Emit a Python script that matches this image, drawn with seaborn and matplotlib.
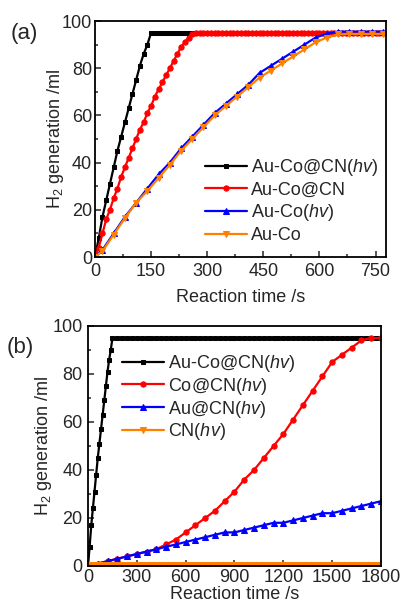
import numpy as np
import pandas as pd
import matplotlib
matplotlib.use("Agg")
import matplotlib.pyplot as plt
from matplotlib.ticker import MultipleLocator
import seaborn as sns

sns.set_theme(style="ticks")
plt.rcParams['font.family'] = ['Liberation Sans', 'DejaVu Sans']
plt.rcParams['mathtext.fontset'] = 'custom'
plt.rcParams['mathtext.rm'] = 'Liberation Sans'
plt.rcParams['mathtext.it'] = 'Liberation Sans:italic'

# ---------- Panel (a) data ----------
a_black_t = [0, 10, 20, 30, 40, 50, 60, 70, 80, 90, 100, 110, 120, 130, 140, 150,
             160, 170, 180, 190, 200, 210, 220, 230, 240, 250, 260, 270]
a_black_y = [0, 8, 17, 24, 31, 38, 45, 51, 57, 63, 69, 75, 81, 86, 90, 95,
             95, 95, 95, 95, 95, 95, 95, 95, 95, 95, 95, 95]

a_red_t = [0, 10, 20, 30, 40, 50, 60, 70, 80, 90, 100, 110, 120, 130, 140, 150, 160,
           170, 180, 190, 200, 210, 220, 230, 240, 250, 260, 270, 280, 290, 300, 310,
           320, 330, 340, 350, 360, 370, 380, 390, 400, 410, 420, 430, 440, 450, 460,
           470, 480, 490, 500, 510, 520, 530, 540, 550, 560, 570, 580, 590, 600, 610,
           620, 630, 640, 650, 660, 670, 680, 690, 700, 710, 720, 730, 740, 750, 760, 770]
a_red_y = [0, 4, 10, 16, 20, 25, 29, 34, 38, 42, 46, 50, 54, 57, 61, 64, 68,
           71, 74, 77, 80, 83, 86, 89, 91, 93, 94.5, 95] + [95] * 50

a_blue_t = [0, 20, 50, 80, 110, 140, 170, 200, 230, 260, 290, 320, 350, 380, 410,
            440, 470, 500, 530, 560, 590, 620, 650, 680, 710, 740, 770]
a_blue_y = [0, 3, 10, 17, 23, 29, 35, 40, 46, 51, 56, 61, 65, 69, 73,
            78, 81, 84, 87, 90, 93, 94.6, 95.5, 95.5, 95.5, 95.5, 95.5]

a_orange_t = a_blue_t
a_orange_y = [0, 2.5, 9.5, 16.5, 23, 28, 33.5, 39, 45, 50, 55, 60, 64, 68, 72,
              76, 79, 82, 85, 88, 91, 93, 94.3, 94.5, 94.5, 94.5, 94.5]

a_labels = ["Au-Co@CN($\\it{hv}$)", "Au-Co@CN", "Au-Co($\\it{hv}$)", "Au-Co"]

# ---------- Panel (b) data ----------
b_black_t = [0, 10, 20, 30, 40, 50, 60, 70, 80, 90, 100, 110, 120, 130, 140, 150] + \
            list(range(180, 1801, 30))
b_black_y = [0, 8, 17, 24, 31, 38, 45, 51, 57, 63, 69, 75, 81, 86, 90, 95] + \
            [95] * len(range(180, 1801, 30))

b_red_t = list(range(0, 1801, 60))
b_red_y = [0, 1, 2, 3, 4, 5, 6, 7, 9, 11, 14, 17, 20, 23, 27, 31, 36, 40, 45, 50,
           55, 61, 67, 73, 79, 85, 88, 91, 94, 95, 95]

b_blue_t = list(range(0, 1801, 60))
b_blue_y = [0, 1, 2, 3, 4, 5, 6, 7, 8, 9, 10, 11, 12, 13, 14, 14, 15, 16, 17, 18,
            18, 19, 20, 21, 22, 22, 23, 24, 25, 26, 27]

b_orange_t = list(range(0, 1801, 30))
b_orange_y = [0.3] * len(b_orange_t)

b_labels = ["Au-Co@CN($\\it{hv}$)", "Co@CN($\\it{hv}$)", "Au@CN($\\it{hv}$)", "CN($\\it{hv}$)"]

colors = ["#000000", "#ff0000", "#0000ff", "#ff8000"]
markers = ["s", "o", "^", "v"]
msizes = [2.8, 3.8, 3.8, 3.8]

W, H = 403, 609
fig = plt.figure(figsize=(W / 100, H / 100), dpi=100)


def px_axes(l, t, r, b):
    return fig.add_axes([l / W, 1 - b / H, (r - l) / W, (b - t) / H])


axa = px_axes(95, 21, 386, 257)
axb = px_axes(88, 326, 381, 566)


def draw(ax, series, labels):
    for (t, y), lab, c, m, ms in zip(series, labels, colors, markers, msizes):
        sns.lineplot(x=t, y=y, ax=ax, color=c, marker=m, markersize=ms,
                     markeredgecolor=c, linewidth=1.6, label=lab, sort=False)


FS = 13


def style(ax, xmax, xmaj, xmin, xpad, xlabpad, ypad, ylabpad):
    ax.set_xlim(0, xmax)
    ax.set_ylim(0, 100)
    ax.xaxis.set_major_locator(MultipleLocator(xmaj))
    ax.xaxis.set_minor_locator(MultipleLocator(xmin))
    ax.yaxis.set_major_locator(MultipleLocator(20))
    ax.yaxis.set_minor_locator(MultipleLocator(10))
    ax.tick_params(which='both', direction='in', top=False, right=False,
                   labelsize=FS, width=1.1)
    ax.tick_params(axis='x', pad=xpad)
    ax.tick_params(axis='y', pad=ypad)
    ax.tick_params(which='major', length=4)
    ax.tick_params(which='minor', length=2.5)
    for s in ax.spines.values():
        s.set_linewidth(1.3)
        s.set_color('black')
    ax.set_xlabel("Reaction time /s", fontsize=FS, labelpad=xlabpad)
    ax.set_ylabel("H$_2$ generation /ml", fontsize=FS, labelpad=ylabpad)


draw(axa, [(a_black_t, a_black_y), (a_red_t, a_red_y), (a_blue_t, a_blue_y),
           (a_orange_t, a_orange_y)], a_labels)
style(axa, 778, 150, 75, xpad=4, xlabpad=7, ypad=2, ylabpad=-3)
axa.legend(loc='upper left', frameon=False, fontsize=FS, handlelength=2.3,
           handletextpad=0.25, labelspacing=0.2, borderpad=0, borderaxespad=0,
           bbox_to_anchor=(205 / W, 1 - 157 / H), bbox_transform=fig.transFigure)

draw(axb, [(b_black_t, b_black_y), (b_red_t, b_red_y), (b_blue_t, b_blue_y),
           (b_orange_t, b_orange_y)], b_labels)
style(axb, 1800, 300, 150, xpad=2, xlabpad=0, ypad=4, ylabpad=-1)
axb.legend(loc='upper left', frameon=False, fontsize=FS, handlelength=2.3,
           handletextpad=0.25, labelspacing=0.1, borderpad=0, borderaxespad=0,
           bbox_to_anchor=(122 / W, 1 - 353 / H), bbox_transform=fig.transFigure)

fig.text(24 / W, 1 - 33 / H, "(a)", fontsize=16, ha='center', va='center')
fig.text(20 / W, 1 - 347 / H, "(b)", fontsize=16, ha='center', va='center')

fig.savefig("out.png", dpi=100)
